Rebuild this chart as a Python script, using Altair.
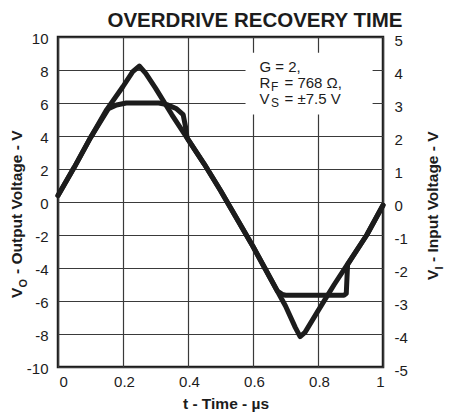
import altair as alt
import pandas as pd

# ---------------- data ----------------
# input signal (right axis, volts)
in_t = [0, 0.05, 0.10, 0.15, 0.20, 0.23, 0.25, 0.27, 0.30, 0.35, 0.40, 0.45, 0.50,
        0.55, 0.60, 0.65, 0.70, 0.73, 0.745, 0.76, 0.80, 0.85, 0.89, 0.95, 1.0]
in_v = [0.2, 1.05, 1.95, 2.8, 3.5, 3.95, 4.12, 3.9, 3.45, 2.65, 1.9, 1.15, 0.35,
        -0.5, -1.35, -2.25, -3.15, -3.8, -4.08, -3.95, -3.3, -2.5, -1.9, -1.0, -0.1]

# output signal (left axis, volts)
out_t = [0, 0.05, 0.10, 0.155, 0.18, 0.21, 0.31, 0.335, 0.365, 0.385, 0.392, 0.397,
         0.40, 0.45, 0.50, 0.55, 0.60, 0.65, 0.675, 0.69, 0.70, 0.88, 0.887, 0.891,
         0.95, 1.0]
out_v = [0.4, 2.1, 3.9, 5.65, 5.88, 6.0, 6.0, 5.9, 5.65, 5.3, 4.6, 3.9,
         3.8, 2.3, 0.7, -1.0, -2.7, -4.5, -5.4, -5.6, -5.65, -5.65, -5.55, -3.8,
         -2.0, -0.2]

x_ticks = [0, 0.2, 0.4, 0.6, 0.8, 1]
left_ticks = [-10, -8, -6, -4, -2, 0, 2, 4, 6, 8, 10]
right_ticks = [-5, -4, -3, -2, -1, 0, 1, 2, 3, 4, 5]

title_text = "OVERDRIVE RECOVERY TIME"
x_title = "t - Time - µs"
left_title = ["V", "O", "- Output Voltage - V"]
right_title = ["V", "I", "- Input Voltage - V"]

# annotation box (left-axis units)
note_box = {"t": [0.577], "t2": [0.968], "v": [9.05], "v2": [5.3]}
note_t = [0.62, 0.62, 0.62]
note_v = [8.2, 7.2, 6.25]
note_main = ["G = 2,", "R", "V"]
note_sub = ["", "F", "S"]
note_rest = ["", "= 768 Ω,", "= ±7.5 V"]

# ---------------- chart ----------------
FONT = "Liberation Sans"
INK = "#1c1c1c"
W, H = 325, 330

df_in = pd.DataFrame({"t": in_t, "v": in_v})
df_out = pd.DataFrame({"t": out_t, "v": out_v})
df_box = pd.DataFrame(note_box)
df_note = pd.DataFrame({"t": note_t, "v": note_v, "main": note_main,
                        "sub": note_sub, "rest": note_rest})

xscale = alt.Scale(domain=[0, 1], nice=False, zero=False)
lscale = alt.Scale(domain=[-10, 10], nice=False, zero=False)
rscale = alt.Scale(domain=[-5, 5], nice=False, zero=False)

x_axis = alt.Axis(values=x_ticks, title=None, grid=True, ticks=False, domain=False,
                  labelExpr="'' + datum.value", labelFontSize=15, labelFont=FONT,
                  labelColor=INK, labelPadding=7, labelOffset=1,
                  gridColor="#3a3a3a", gridWidth=1.2, gridOpacity=1)
l_axis = alt.Axis(values=left_ticks, title=None, grid=True, ticks=False, domain=False,
                  labelExpr="'' + datum.value", labelFontSize=15, labelFont=FONT,
                  labelColor=INK, labelPadding=10, labelOffset=1,
                  gridColor="#3a3a3a", gridWidth=1.2, gridOpacity=1)
r_axis = alt.Axis(values=right_ticks, title=None, grid=False, ticks=False, domain=False,
                  orient="right", labelExpr="'' + datum.value", labelFontSize=15,
                  labelFont=FONT, labelColor=INK, labelPadding=11, labelOffset=3)

X = alt.X("t:Q", scale=xscale, axis=x_axis)
YL = alt.Y("v:Q", scale=lscale, axis=l_axis)

LW = 5

out_line = alt.Chart(df_out).mark_line(
    color=INK, strokeWidth=LW, strokeCap="round", strokeJoin="round"
).encode(x=X, y=YL, order="t:Q")

box = alt.Chart(df_box).mark_rect(color="white").encode(
    x=X, x2="t2:Q", y=YL, y2="v2:Q")

txt_main = alt.Chart(df_note).mark_text(
    align="left", baseline="middle", font=FONT, fontSize=15, color=INK
).encode(x=X, y=YL, text="main:N")
txt_sub = alt.Chart(df_note).mark_text(
    align="left", baseline="middle", font=FONT, fontSize=12, color=INK, dx=11.5, dy=4
).encode(x=X, y=YL, text="sub:N")
txt_rest = alt.Chart(df_note).mark_text(
    align="left", baseline="middle", font=FONT, fontSize=15, color=INK, dx=25
).encode(x=X, y=YL, text="rest:N")


# titles as text marks (to allow subscripts)
def tmark(text, x, y, size, angle=0, dx=0, dy=0, align="center"):
    return alt.Chart(pd.DataFrame({"s": [text]})).mark_text(
        text=text, font=FONT, fontSize=size, fontWeight="bold", color=INK,
        angle=angle, dx=dx, dy=dy, align=align, baseline="alphabetic"
    ).encode(x=alt.value(x), y=alt.value(y))


TS = 15.5
LX = -36
titles = [
    tmark(title_text, 197, -10.5, 20.5),
    tmark(x_title, 168, 372, TS),
    tmark(left_title[0], LX, 261, TS, angle=270, align="left"),
    tmark(left_title[1], LX, 261, 11, angle=270, align="left", dx=10.5, dy=4.5),
    tmark(left_title[2], LX, 261, TS, angle=270, align="left", dx=24),
    tmark(right_title[0], W + 55, 243, TS, angle=270, align="left"),
    tmark(right_title[1], W + 55, 243, 11, angle=270, align="left", dx=10.5, dy=4.5),
    tmark(right_title[2], W + 55, 243, TS, angle=270, align="left", dx=18),
]

left_layer = alt.layer(box, out_line, txt_main, txt_sub, txt_rest, *titles)

in_line = alt.Chart(df_in).mark_line(
    color=INK, strokeWidth=LW, strokeCap="round", strokeJoin="round"
).encode(x=X, y=alt.Y("v:Q", scale=rscale, axis=r_axis), order="t:Q")

chart = alt.layer(left_layer, in_line).resolve_scale(y="independent").properties(
    width=W, height=H,
    autosize=alt.AutoSizeParams(type="none"),
    padding={"left": 50, "top": 29, "right": 62, "bottom": 50},
    background="white",
).configure_view(stroke=INK, strokeWidth=2.5)

chart.save("out.html", embed_options={"renderer": "svg", "actions": False})
